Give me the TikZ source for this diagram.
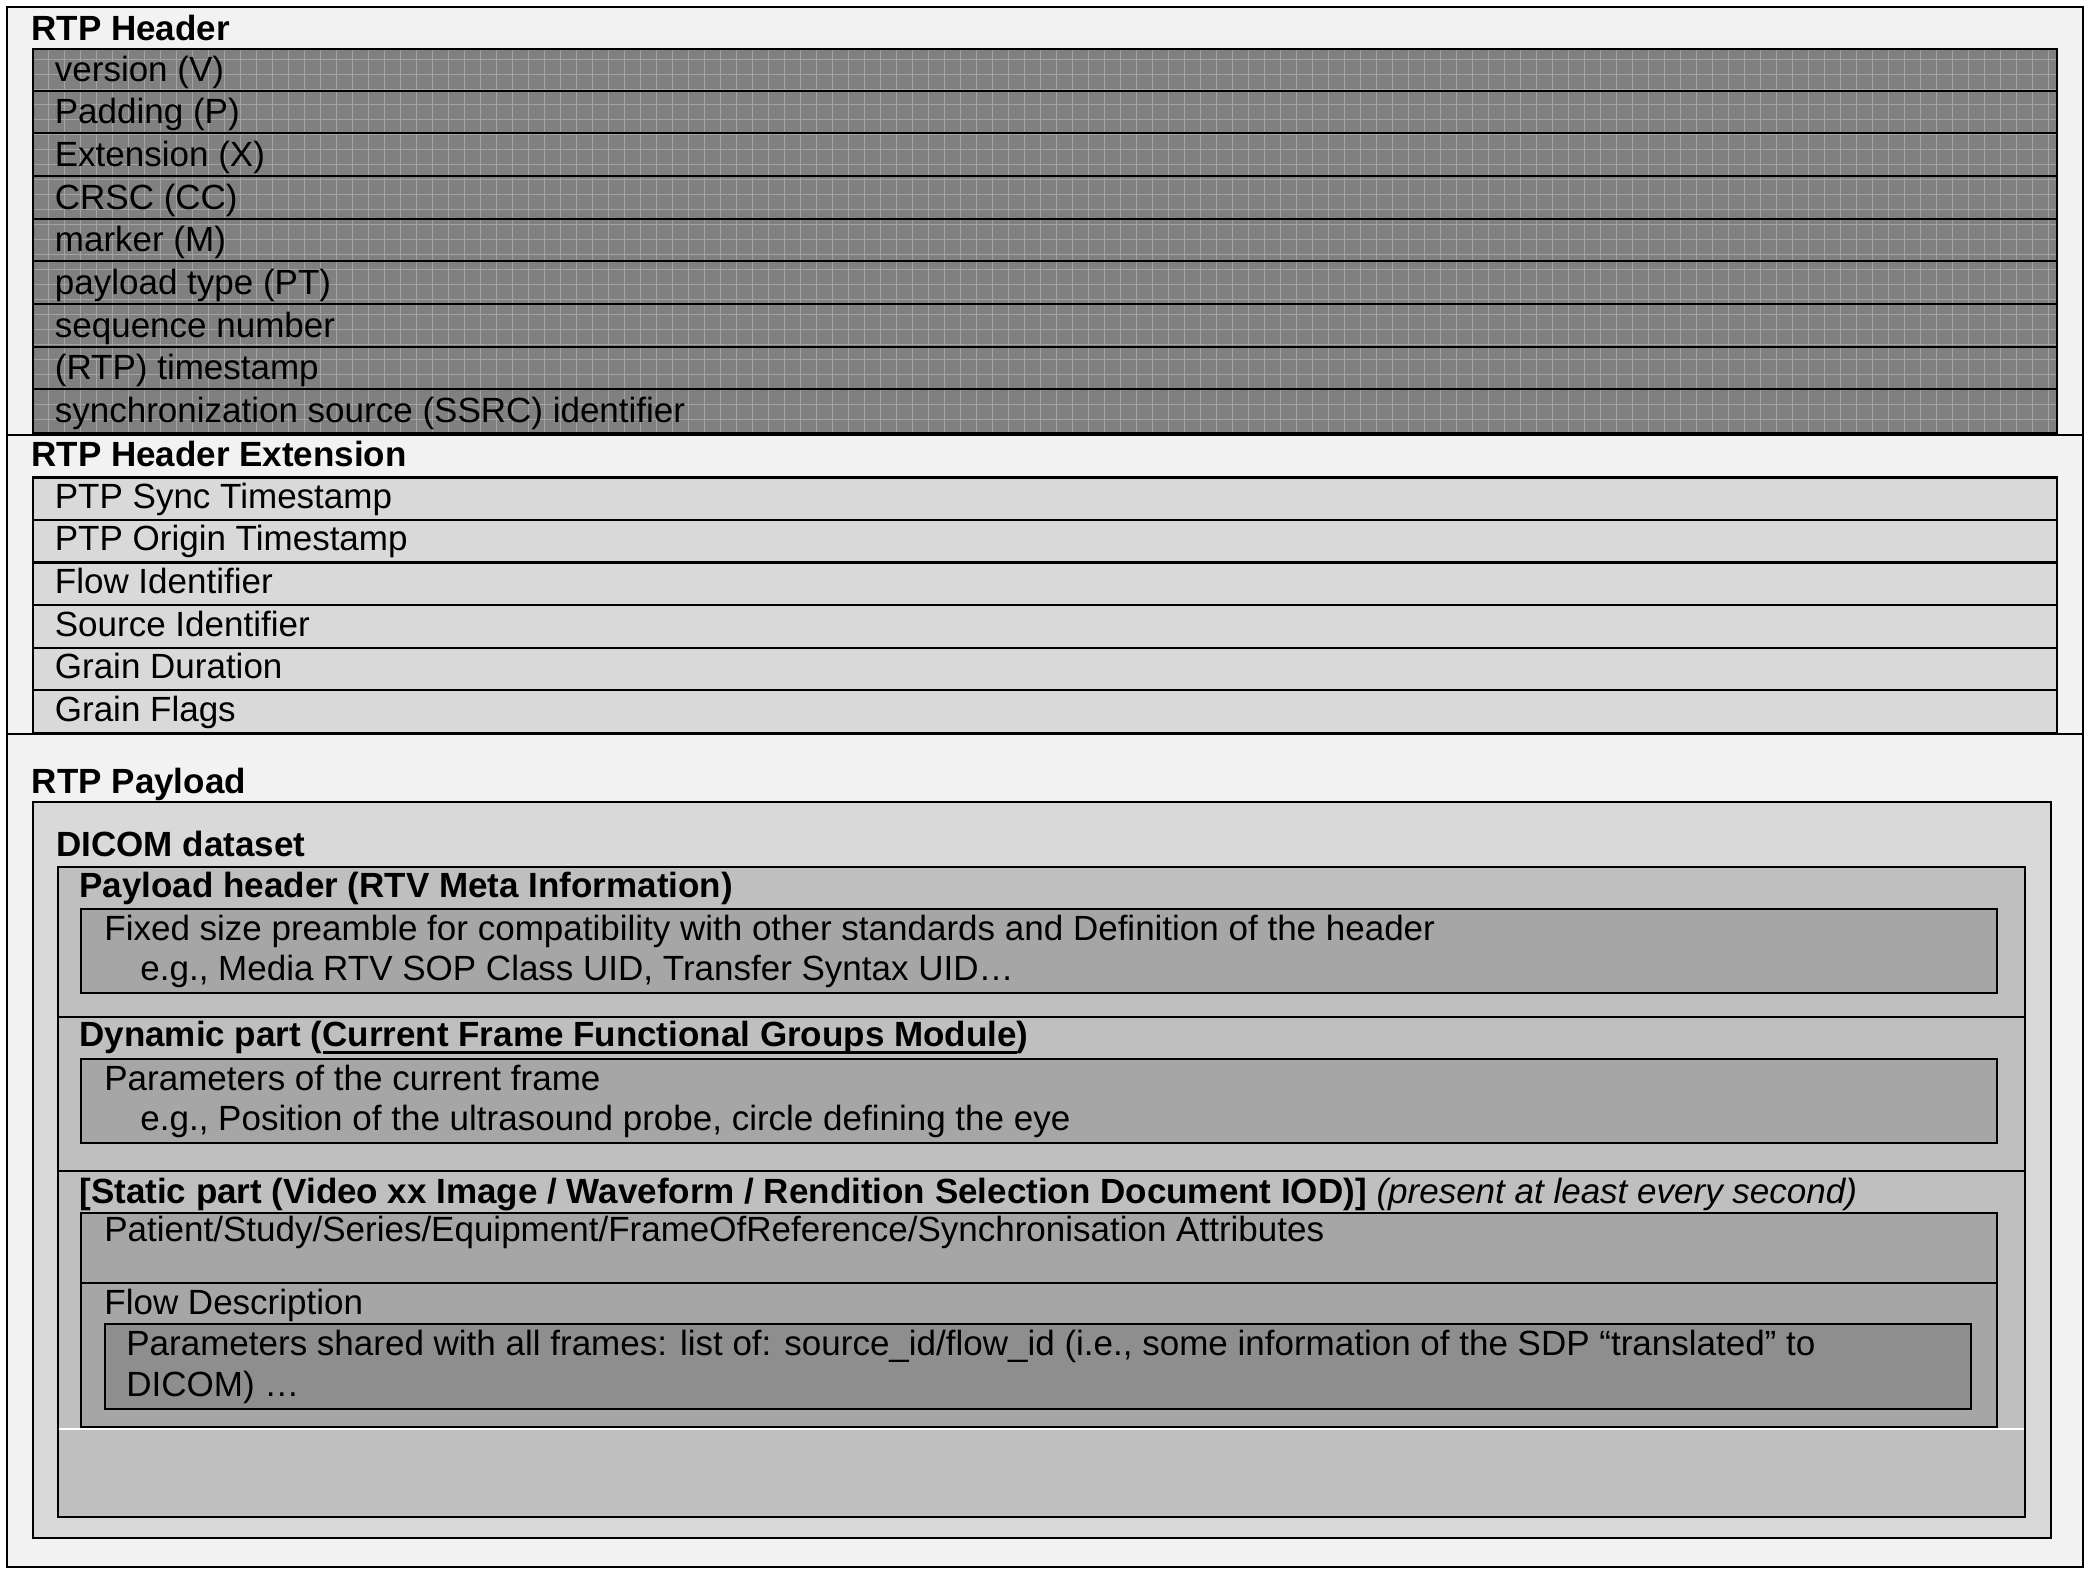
\documentclass[tikz,border=0pt]{standalone}
\usepackage{fontspec}
\setmainfont{Liberation Sans}
\usetikzlibrary{patterns.meta}
\definecolor{bgc}{HTML}{F2F2F2}
\definecolor{hdrc}{HTML}{808080}
\definecolor{hdrl}{HTML}{A4A4A4}
\definecolor{extc}{HTML}{D9D9D9}
\definecolor{dicc}{HTML}{BFBFBF}
\definecolor{boxc}{HTML}{A6A6A6}
\definecolor{innc}{HTML}{8E8E8E}
\newcommand{\myul}[1]{\setbox0\hbox{#1}\rlap{\rule[-3.4pt]{\wd0}{1.1pt}}\box0}
\begin{document}
\begin{tikzpicture}[x=0.5pt,y=-0.5pt,
  txt/.style={anchor=base west, inner sep=0pt, font=\fontsize{17.5}{21}\selectfont},
  ttl/.style={anchor=base west, inner sep=0pt, font=\fontsize{17.5}{21}\selectfont\bfseries},
  bline/.style={line width=1pt, draw=black}]
\useasboundingbox (0,0) rectangle (2090,1574);
\fill[white] (0,0) rectangle (2090,1574);
% outer frame
\filldraw[fill=bgc, bline] (7,7) rectangle (2083,1567);
% ---------- RTP Header
\node[ttl] (th) at (31,40) {RTP Header};
\fill[hdrc] (33,49) rectangle (2057,433);
\fill[pattern={Lines[angle=90,distance=8pt,line width=0.3pt]}, pattern color=hdrl] (33,49) rectangle (2057,433);
\fill[pattern={Lines[angle=0,distance=7.5pt,line width=0.3pt]}, pattern color=hdrl] (33,49) rectangle (2057,433);
\draw[line width=1.2pt] (33,49) rectangle (2057,433);
\foreach \yy in {90.7,133.3,176,218.7,261.3,304,346.7,389.3}
  \draw[line width=1.1pt] (33,\yy) -- (2057,\yy);
\node[txt] (h1) at (54.5,81) {version (V)};
\node[txt] (h2) at (54.5,123.7) {Padding (P)};
\node[txt] (h3) at (54.5,166.3) {Extension (X)};
\node[txt] (h4) at (54.5,209) {CRSC (CC)};
\node[txt] (h5) at (54.5,251.7) {marker (M)};
\node[txt] (h6) at (54.5,294.3) {payload type (PT)};
\node[txt] (h7) at (54.5,337) {sequence number};
\node[txt] (h8) at (54.5,379.7) {(RTP) timestamp};
\node[txt] (h9) at (54.5,422.3) {synchronization source (SSRC) identifier};
\draw[bline] (7,435) -- (2083,435);
% ---------- RTP Header Extension
\node[ttl] (te) at (31,466.7) {RTP Header Extension};
\filldraw[fill=extc, line width=1.2pt] (33,477.3) rectangle (2057,732.7);
\foreach \yy in {519.9,562.4,605,647.6,690.1}
  \draw[line width=1.1pt] (33,\yy) -- (2057,\yy);
\node[txt] (e1) at (54.5,508.3) {PTP Sync Timestamp};
\node[txt] (e2) at (54.5,550.9) {PTP Origin Timestamp};
\node[txt] (e3) at (54.5,593.4) {Flow Identifier};
\node[txt] (e4) at (54.5,636) {Source Identifier};
\node[txt] (e5) at (54.5,678.6) {Grain Duration};
\node[txt] (e6) at (54.5,721.1) {Grain Flags};
\draw[bline] (7,734) -- (2083,734);
% ---------- RTP Payload
\node[ttl] (tp) at (31.6,793.3) {RTP Payload};
\filldraw[fill=extc, bline] (33,802.3) rectangle (2051,1538.3);
\node[ttl] (td) at (56,856.7) {DICOM dataset};
\filldraw[fill=dicc, bline] (57.5,866.7) rectangle (2025,1516.7);
\draw[bline] (57.5,1016.7) -- (2025,1016.7);
\draw[bline] (57.5,1170.7) -- (2025,1170.7);
% payload header
\node[ttl] (tph) at (79,897.7) {Payload header (RTV Meta Information)};
\filldraw[fill=boxc, bline] (81.4,909) rectangle (1997,992.7);
\node[txt] (p1) at (104,940) {Fixed size preamble for compatibility with other standards and Definition of the header};
\node[txt] (p2) at (140,980) {e.g., Media RTV SOP Class UID, Transfer Syntax UID…};
% dynamic part
\node[ttl] (tdy) at (79,1046.7) {Dynamic part (\myul{Current Frame Functional Groups Module})};
\filldraw[fill=boxc, bline] (81.4,1059.3) rectangle (1997,1142.7);
\node[txt] (d1) at (104,1090) {Parameters of the current frame};
\node[txt] (d2) at (140,1130) {e.g., Position of the ultrasound probe, circle defining the eye};
% static part
\node[ttl] (tst) at (79,1203.3) {[Static part (Video xx Image / Waveform / Rendition Selection Document IOD)] \mdseries\itshape(present at least every second)};
\filldraw[fill=boxc, bline] (81.4,1212.7) rectangle (1997,1426.7);
\draw[bline] (81.4,1282.7) -- (1997,1282.7);
\node[txt] (s1) at (104,1241.7) {Patient/Study/Series/Equipment/FrameOfReference/Synchronisation Attributes};
\node[txt] (s2) at (104,1314) {Flow Description};
\filldraw[fill=innc, bline] (105,1324.3) rectangle (1971,1409);
\node[txt] (f1) at (126,1355) {Parameters shared with all frames: list of: source\_id/flow\_id (i.e., some information of the SDP “translated” to};
\node[txt] (f2) at (126,1396.7) {DICOM) …};
\draw[white, line width=1pt] (58.5,1429) -- (2024,1429);
\end{tikzpicture}
\end{document}
